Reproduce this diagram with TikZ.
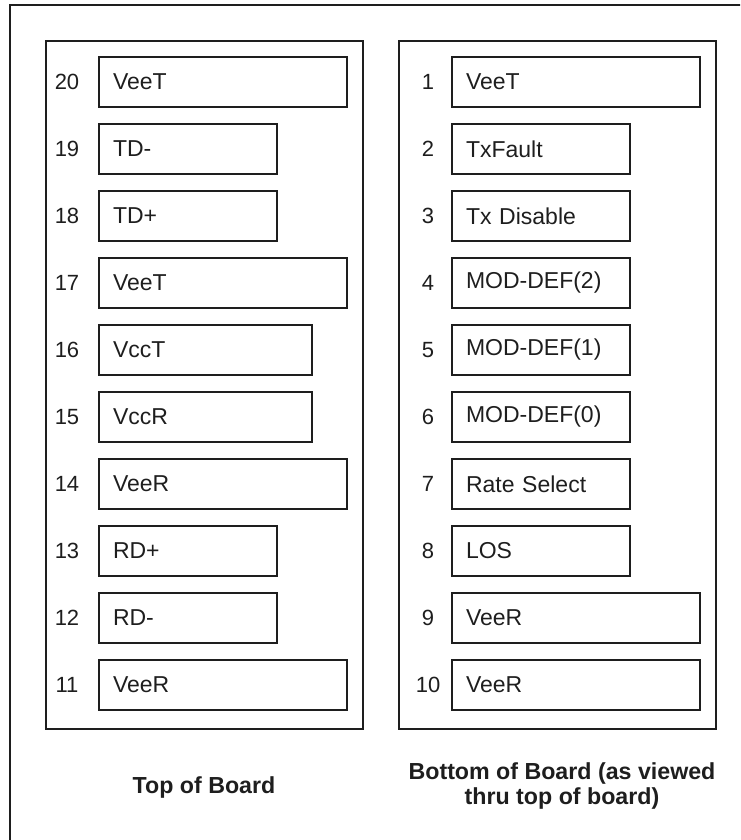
\documentclass[tikz,border=0pt]{standalone}
\usepackage{xcolor}
\usepackage{fontspec}
\usepackage{tikz}
\usetikzlibrary{positioning,calc}
\setmainfont{Liberation Sans}
\definecolor{Ink}{HTML}{1E1E1E}

\begin{document}
\begin{tikzpicture}[x=1pt,y=-1pt,
    panel/.style={draw=Ink,line width=2pt,anchor=north west,minimum width=317pt,minimum height=688pt,inner sep=0pt},
    pin/.style={draw=Ink,line width=2pt,anchor=north west,minimum height=50pt,align=left,inner xsep=14pt,inner ysep=0pt,text=Ink,font=\fontsize{23}{27}\selectfont},
    wide/.style={pin,text width=220pt},
    mid/.style={pin,text width=185pt},
    short/.style={pin,text width=150pt},
    num/.style={text=Ink,inner sep=0pt,font=\fontsize{22}{26}\selectfont},
    boardlabel/.style={text=Ink,align=center,inner sep=0pt,font=\fontsize{23.2}{25}\selectfont\bfseries}]
    \clip (0,0) rectangle (740,840);
    \draw[Ink,line width=2pt] (10,5) rectangle (780,880);
    % left side of the board
    \node[panel] (top) at (45,40) {};
    \node[wide] (p20) at (98,56) {VeeT};
    \node[short] (p19) at (98,123) {TD-};
    \node[short] (p18) at (98,190) {TD+};
    \node[wide] (p17) at (98,257) {VeeT};
    \node[mid] (p16) at (98,324) {VccT};
    \node[mid] (p15) at (98,391) {VccR};
    \node[wide] (p14) at (98,458) {VeeR};
    \node[short] (p13) at (98,525) {RD+};
    \node[short] (p12) at (98,592) {RD-};
    \node[wide] (p11) at (98,659) {VeeR};
    \node[num] (n20) at ($(p20.west)+(-31,0)$) {20};
    \node[num] (n19) at ($(p19.west)+(-31,0)$) {19};
    \node[num] (n18) at ($(p18.west)+(-31,0)$) {18};
    \node[num] (n17) at ($(p17.west)+(-31,0)$) {17};
    \node[num] (n16) at ($(p16.west)+(-31,0)$) {16};
    \node[num] (n15) at ($(p15.west)+(-31,0)$) {15};
    \node[num] (n14) at ($(p14.west)+(-31,0)$) {14};
    \node[num] (n13) at ($(p13.west)+(-31,0)$) {13};
    \node[num] (n12) at ($(p12.west)+(-31,0)$) {12};
    \node[num] (n11) at ($(p11.west)+(-31,0)$) {11};
    % right side of the board
    \node[panel] (bot) at (398,40) {};
    \node[wide] (p1) at (451,56) {VeeT};
    \node[short] (p2) at (451,123) {TxFault};
    \node[short] (p3) at (451,190) {Tx Disable};
    \node[short] (p4) at (451,257) {MOD-DEF(2)};
    \node[short] (p5) at (451,324) {MOD-DEF(1)};
    \node[short] (p6) at (451,391) {MOD-DEF(0)};
    \node[short] (p7) at (451,458) {Rate Select};
    \node[short] (p8) at (451,525) {LOS};
    \node[wide] (p9) at (451,592) {VeeR};
    \node[wide] (p10) at (451,659) {VeeR};
    \node[num] (n1) at ($(p1.west)+(-23,0)$) {1};
    \node[num] (n2) at ($(p2.west)+(-23,0)$) {2};
    \node[num] (n3) at ($(p3.west)+(-23,0)$) {3};
    \node[num] (n4) at ($(p4.west)+(-23,0)$) {4};
    \node[num] (n5) at ($(p5.west)+(-23,0)$) {5};
    \node[num] (n6) at ($(p6.west)+(-23,0)$) {6};
    \node[num] (n7) at ($(p7.west)+(-23,0)$) {7};
    \node[num] (n8) at ($(p8.west)+(-23,0)$) {8};
    \node[num] (n9) at ($(p9.west)+(-23,0)$) {9};
    \node[num] (n10) at ($(p10.west)+(-23,0)$) {10};
    \node[boardlabel] (topcap) at (204,787) {Top of Board};
    \node[boardlabel] (botcap) at (562,786) {Bottom of Board (as viewed\\thru top of board)};
  \end{tikzpicture}
\end{document}
